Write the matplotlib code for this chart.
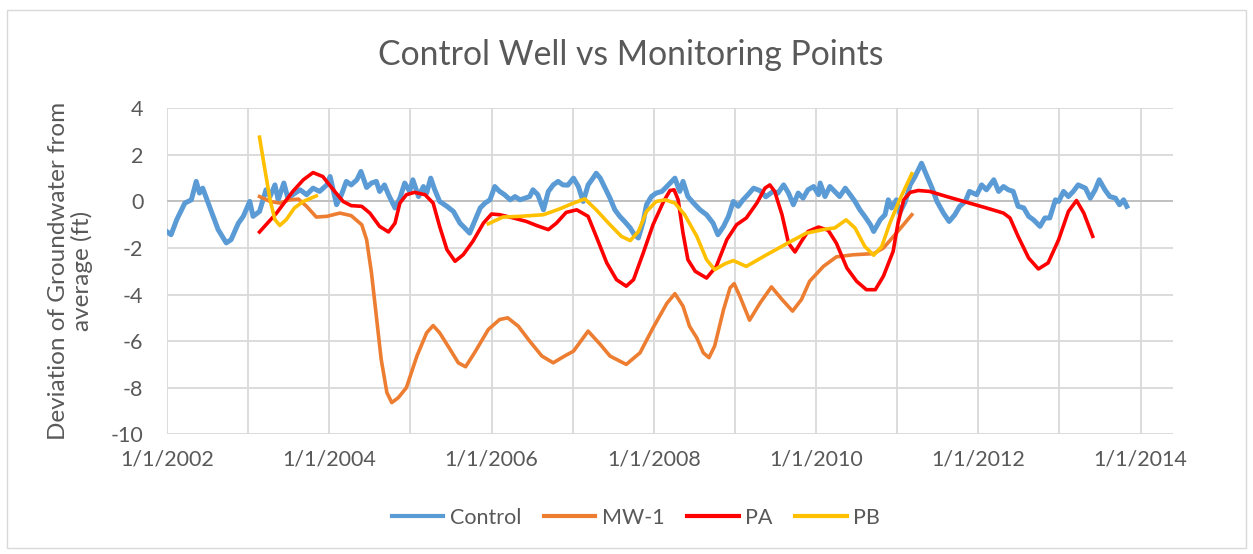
import matplotlib
matplotlib.use("Agg")
import matplotlib.pyplot as plt
from matplotlib.patches import Rectangle
from matplotlib.ticker import FixedLocator
import numpy as np

# x values are decimal years, y values are ft deviation from average
control_t = [2002.00, 2002.05, 2002.12, 2002.22, 2002.30, 2002.36, 2002.40, 2002.44, 2002.53, 2002.63,
             2002.73, 2002.79, 2002.88, 2002.94, 2003.02, 2003.06, 2003.14, 2003.22, 2003.27, 2003.33,
             2003.37, 2003.44, 2003.49, 2003.55, 2003.64, 2003.72, 2003.80, 2003.88, 2003.97, 2004.01,
             2004.09, 2004.15, 2004.21, 2004.27, 2004.34, 2004.39, 2004.46, 2004.52, 2004.58, 2004.62,
             2004.68, 2004.73, 2004.81, 2004.87, 2004.93, 2004.99, 2005.03, 2005.10, 2005.16, 2005.20,
             2005.25, 2005.30, 2005.36, 2005.45, 2005.53, 2005.61, 2005.67, 2005.73, 2005.79, 2005.86,
             2005.92, 2005.98, 2006.04, 2006.10, 2006.16, 2006.23, 2006.29, 2006.35, 2006.41, 2006.47,
             2006.51, 2006.57, 2006.64, 2006.70, 2006.76, 2006.82, 2006.88, 2006.94, 2007.01, 2007.07,
             2007.13, 2007.19, 2007.25, 2007.29, 2007.34, 2007.40, 2007.46, 2007.52, 2007.58, 2007.64,
             2007.71, 2007.76, 2007.81, 2007.87, 2007.91, 2007.97, 2008.03, 2008.10, 2008.16, 2008.22,
             2008.26, 2008.32, 2008.36, 2008.42, 2008.49, 2008.57, 2008.65, 2008.73, 2008.79, 2008.86,
             2008.92, 2008.98, 2009.04, 2009.10, 2009.16, 2009.23, 2009.31, 2009.38, 2009.47, 2009.53,
             2009.60, 2009.66, 2009.72, 2009.78, 2009.84, 2009.90, 2009.97, 2010.03, 2010.05, 2010.11,
             2010.17, 2010.23, 2010.29, 2010.36, 2010.42, 2010.48, 2010.54, 2010.60, 2010.67, 2010.71,
             2010.79, 2010.85, 2010.89, 2010.93, 2010.99, 2011.03, 2011.10, 2011.16, 2011.22, 2011.30,
             2011.36, 2011.43, 2011.49, 2011.57, 2011.64, 2011.71, 2011.77, 2011.84, 2011.89, 2011.98,
             2012.04, 2012.10, 2012.19, 2012.25, 2012.31, 2012.37, 2012.43, 2012.49, 2012.56, 2012.62,
             2012.68, 2012.76, 2012.82, 2012.88, 2012.95, 2012.99, 2013.05, 2013.11, 2013.17, 2013.23,
             2013.32, 2013.38, 2013.44, 2013.49, 2013.56, 2013.62, 2013.69, 2013.74, 2013.79, 2013.83]
control_v = [-1.30, -1.43, -0.78, -0.07, 0.07, 0.86, 0.36, 0.57, -0.28, -1.21,
             -1.78, -1.64, -0.93, -0.64, 0.00, -0.64, -0.43, 0.50, 0.21, 0.71,
             0.07, 0.79, 0.14, 0.29, 0.50, 0.29, 0.57, 0.43, 0.71, 1.07,
             -0.14, 0.29, 0.86, 0.71, 0.93, 1.29, 0.60, 0.79, 0.86, 0.43,
             0.71, 0.29, -0.28, 0.14, 0.79, 0.43, 0.93, 0.21, 0.64, 0.36,
             1.00, 0.50, 0.00, -0.21, -0.43, -0.93, -1.14, -1.36, -0.86, -0.28,
             -0.07, 0.07, 0.64, 0.43, 0.29, 0.07, 0.21, 0.07, 0.14, 0.21,
             0.50, 0.29, -0.36, 0.43, 0.71, 0.86, 0.71, 0.70, 1.00, 0.64,
             0.00, 0.71, 1.00, 1.21, 1.00, 0.57, 0.14, -0.36, -0.64, -0.86,
             -1.14, -1.43, -1.57, -0.86, -0.14, 0.21, 0.36, 0.43, 0.64, 0.86,
             1.00, 0.43, 0.86, 0.21, -0.07, -0.36, -0.57, -0.93, -1.43, -1.07,
             -0.64, 0.00, -0.21, 0.07, 0.29, 0.57, 0.46, 0.20, 0.43, 0.36,
             0.71, 0.36, -0.14, 0.36, 0.14, 0.50, 0.64, 0.29, 0.79, 0.21,
             0.64, 0.43, 0.21, 0.57, 0.29, 0.00, -0.36, -0.64, -1.00, -1.29,
             -0.79, -0.57, 0.07, -0.28, 0.07, -0.50, 0.00, 0.71, 1.07, 1.64,
             1.14, 0.57, 0.00, -0.50, -0.86, -0.57, -0.21, 0.00, 0.43, 0.29,
             0.71, 0.50, 0.93, 0.43, 0.64, 0.50, 0.43, -0.21, -0.28, -0.64,
             -0.79, -1.07, -0.71, -0.71, 0.07, 0.00, 0.43, 0.21, 0.43, 0.71,
             0.57, 0.14, 0.50, 0.93, 0.50, 0.21, 0.14, -0.14, 0.07, -0.21]

mw1_t = [2003.14, 2003.27, 2003.39, 2003.51, 2003.62, 2003.72, 2003.84, 2003.97, 2004.13, 2004.27,
         2004.40, 2004.46, 2004.52, 2004.58, 2004.64, 2004.71, 2004.77, 2004.85, 2004.95, 2005.08,
         2005.20, 2005.28, 2005.36, 2005.49, 2005.59, 2005.68, 2005.79, 2005.96, 2006.10, 2006.20,
         2006.33, 2006.47, 2006.62, 2006.76, 2006.90, 2007.01, 2007.19, 2007.34, 2007.46, 2007.66,
         2007.83, 2007.99, 2008.16, 2008.26, 2008.36, 2008.44, 2008.53, 2008.61, 2008.68, 2008.75,
         2008.86, 2008.94, 2008.99, 2009.06, 2009.18, 2009.31, 2009.45, 2009.58, 2009.71, 2009.82,
         2009.92, 2010.09, 2010.25, 2010.46, 2010.71, 2010.83, 2010.99, 2011.18]
mw1_v = [0.21, 0.00, -0.07, 0.07, 0.10, -0.21, -0.67, -0.64, -0.50, -0.61,
         -1.00, -1.64, -3.07, -4.93, -6.79, -8.21, -8.64, -8.43, -8.00, -6.64,
         -5.64, -5.33, -5.64, -6.36, -6.93, -7.10, -6.50, -5.50, -5.07, -5.00,
         -5.36, -6.00, -6.64, -6.93, -6.64, -6.43, -5.57, -6.14, -6.64, -7.00,
         -6.50, -5.43, -4.38, -3.96, -4.50, -5.36, -5.86, -6.50, -6.71, -6.21,
         -4.64, -3.71, -3.53, -4.07, -5.10, -4.36, -3.67, -4.21, -4.71, -4.21,
         -3.43, -2.79, -2.38, -2.29, -2.24, -2.00, -1.36, -0.57]

pa_t = [2003.14, 2003.35, 2003.55, 2003.68, 2003.80, 2003.92, 2004.05, 2004.17, 2004.27, 2004.40,
        2004.50, 2004.62, 2004.73, 2004.81, 2004.87, 2004.95, 2005.05, 2005.18, 2005.28, 2005.36,
        2005.45, 2005.55, 2005.65, 2005.77, 2005.90, 2006.00, 2006.10, 2006.27, 2006.43, 2006.56,
        2006.70, 2006.80, 2006.92, 2007.05, 2007.19, 2007.29, 2007.42, 2007.54, 2007.66, 2007.75,
        2007.87, 2007.99, 2008.12, 2008.20, 2008.25, 2008.30, 2008.36, 2008.42, 2008.51, 2008.65,
        2008.77, 2008.90, 2009.02, 2009.14, 2009.27, 2009.37, 2009.43, 2009.49, 2009.58, 2009.66,
        2009.74, 2009.82, 2009.90, 2010.03, 2010.15, 2010.25, 2010.38, 2010.50, 2010.62, 2010.73,
        2010.83, 2010.95, 2011.01, 2011.08, 2011.16, 2011.26, 2011.40, 2011.61, 2011.82, 2012.10,
        2012.31, 2012.39, 2012.49, 2012.62, 2012.74, 2012.86, 2012.99, 2013.11, 2013.21, 2013.30,
        2013.41]
pa_v = [-1.31, -0.50, 0.43, 0.93, 1.24, 1.07, 0.50, 0.00, -0.18, -0.21,
        -0.50, -1.07, -1.31, -0.93, -0.07, 0.29, 0.39, 0.29, -0.07, -1.07,
        -2.07, -2.57, -2.29, -1.71, -0.93, -0.54, -0.57, -0.71, -0.86, -1.04,
        -1.21, -0.93, -0.47, -0.36, -0.64, -1.50, -2.64, -3.36, -3.64, -3.36,
        -2.21, -1.00, 0.00, 0.47, 0.50, 0.07, -1.36, -2.50, -3.00, -3.29,
        -2.79, -1.64, -1.00, -0.71, -0.07, 0.57, 0.71, 0.43, -0.57, -1.79,
        -2.17, -1.71, -1.29, -1.10, -1.24, -1.79, -2.86, -3.43, -3.79, -3.79,
        -3.21, -2.14, -0.93, 0.07, 0.39, 0.47, 0.43, 0.21, 0.00, -0.28,
        -0.50, -0.71, -1.50, -2.43, -2.90, -2.64, -1.64, -0.43, 0.04, -0.50,
        -1.50]

# PB has a gap in the record between late 2003 and the end of 2005
pb_t = [2003.14, 2003.20, 2003.27, 2003.33, 2003.39, 2003.47, 2003.57, 2003.68, 2003.84, 2004.90,
        2005.96, 2006.14, 2006.35, 2006.64, 2006.84, 2007.01, 2007.15, 2007.29, 2007.46, 2007.60,
        2007.71, 2007.81, 2007.91, 2008.03, 2008.14, 2008.26, 2008.38, 2008.53, 2008.65, 2008.75,
        2008.88, 2008.98, 2009.14, 2009.39, 2009.64, 2009.88, 2010.13, 2010.23, 2010.37, 2010.48,
        2010.60, 2010.71, 2010.81, 2010.91, 2011.03, 2011.18]
pb_v = [2.76, 1.50, 0.07, -0.78, -1.03, -0.78, -0.28, 0.00, 0.24, np.nan,
        -0.96, -0.67, -0.64, -0.57, -0.32, -0.07, 0.11, -0.36, -1.00, -1.50,
        -1.68, -1.29, -0.43, 0.00, 0.07, -0.07, -0.57, -1.50, -2.50, -2.93,
        -2.67, -2.54, -2.79, -2.29, -1.81, -1.36, -1.18, -1.14, -0.79, -1.14,
        -1.93, -2.31, -1.93, -0.93, 0.07, 1.19]

year_ticks = [2002, 2004, 2006, 2008, 2010, 2012, 2014]
year_labels = [f"1/1/{y}" for y in year_ticks]

plt.rcParams['font.family'] = ['Lato', 'DejaVu Sans']
plt.rcParams['axes.unicode_minus'] = False
txt = '#595959'
grid = '#D9D9D9'

fig = plt.figure(figsize=(12.53, 5.54), dpi=100)
fig.patches.append(Rectangle((7 / 1253, 6 / 554), 1239 / 1253, 538 / 554,
                             transform=fig.transFigure, fill=False,
                             edgecolor=grid, linewidth=1))
ax = fig.add_axes([0.1333, 0.2161, 0.8029, 0.5884])

ax.plot(control_t, control_v, color='#5B9BD5', lw=3.6, label='Control', solid_joinstyle='round')
ax.plot(mw1_t, mw1_v, color='#ED7D31', lw=2.6, label='MW-1', solid_joinstyle='round')
ax.plot(pa_t, pa_v, color='#FF0000', lw=2.6, label='PA', solid_joinstyle='round')
ax.plot(pb_t, pb_v, color='#FFC000', lw=2.6, label='PB', solid_joinstyle='round')

ax.set_xlim(2002, 2014.40)
ax.set_ylim(-10, 4)
ax.set_yticks(range(-10, 5, 2))
ax.xaxis.set_major_locator(FixedLocator(year_ticks))
ax.set_xticklabels(year_labels)
ax.xaxis.set_minor_locator(FixedLocator(range(2003, 2014, 2)))
ax.grid(True, which='both', color=grid, lw=1.3)
ax.set_axisbelow(True)
ax.axhline(0, color='#BFBFBF', lw=1.3, zorder=1)
for s in ax.spines.values():
    s.set_visible(False)
ax.tick_params(axis='both', which='both', length=0, colors=txt, labelsize=15.5)
ax.tick_params(axis='y', pad=17)
ax.tick_params(axis='x', pad=11)

ax.set_ylabel('Deviation of Groundwater from\naverage (ft)', fontsize=17.5, color=txt,
              labelpad=13, linespacing=1.1)
fig.text(0.503, 1 - 55 / 554, 'Control Well vs Monitoring Points', ha='center', va='center',
         fontsize=24.3, color=txt)

leg = fig.legend(loc='center', bbox_to_anchor=(636 / 1253, 1 - 518 / 554), ncol=4, frameon=False,
                 fontsize=15.5, labelcolor=txt, handlelength=2.4, columnspacing=1.05,
                 handletextpad=0.3)
for h in leg.get_lines():
    h.set_linewidth(3.0)

fig.savefig('out.png', dpi=100)
